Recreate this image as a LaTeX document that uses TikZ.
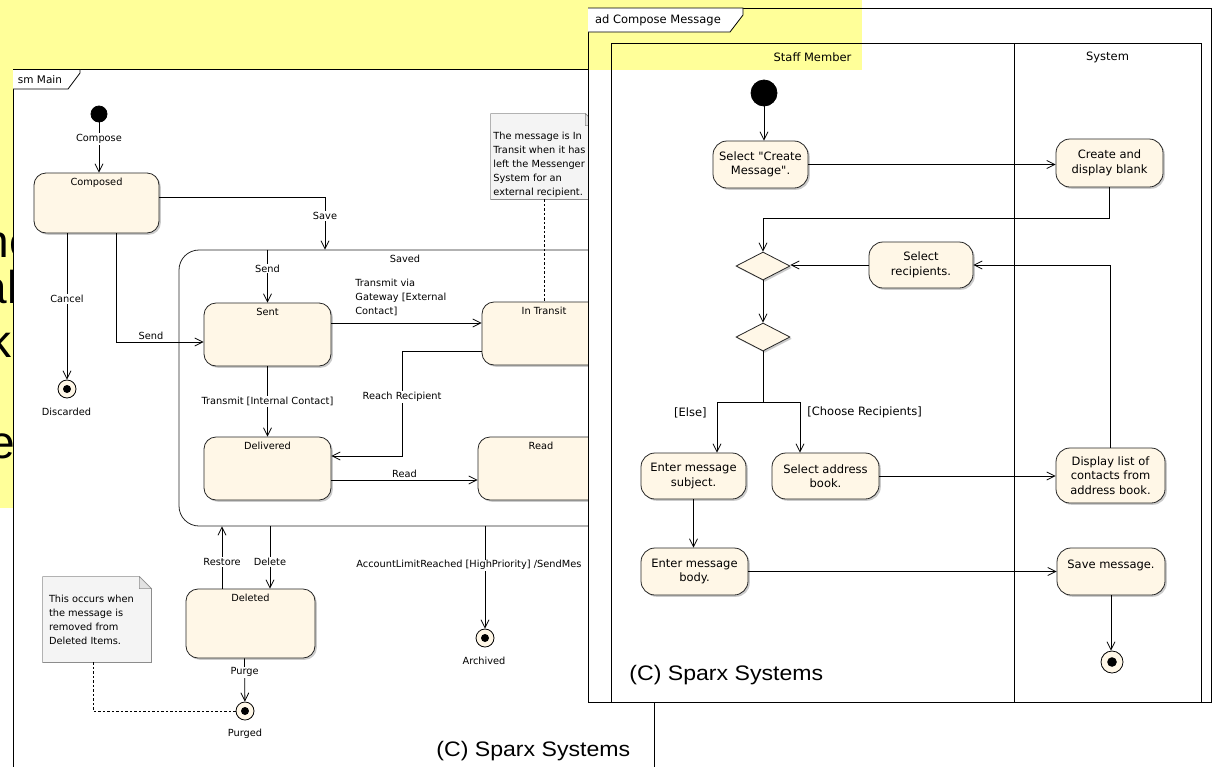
\documentclass[tikz,border=0pt]{standalone}
\usepackage{fontspec}
\setmainfont{DejaVu Sans}
\newfontfamily\arialfam{Liberation Sans}
\usetikzlibrary{arrows.meta,shapes.geometric,shadows}

\definecolor{statefill}{RGB}{255,247,231}
\definecolor{slideyellow}{RGB}{255,255,153}
\definecolor{notefill}{RGB}{244,244,244}
\definecolor{notedraw}{RGB}{140,140,140}
\definecolor{notefold}{RGB}{226,226,226}
\definecolor{shadowgray}{RGB}{140,140,140}
\newcommand{\mysmf}{\fontsize{9.8}{14}\selectfont}
\newcommand{\myadf}{\fontsize{11.5}{14.5}\selectfont}
\newcommand{\mybigf}{\arialfam\fontsize{46}{50}\selectfont}
\newcommand{\mysparxf}{\arialfam\fontsize{21}{25}\selectfont}

\begin{document}
\begin{tikzpicture}[x=1pt, y=-1pt, line width=0.8pt,
  arr/.style={-{Straight Barb[length=8pt,width=8pt]}},
  lbl/.style={fill=white, inner sep=1pt, font=\mysmf},
  txt/.style={font=\mysmf, inner sep=1pt},
  adtxt/.style={font=\myadf, inner sep=1pt},
  shd/.style={drop shadow={shadow xshift=1.8pt, shadow yshift=-1.8pt, fill=shadowgray, opacity=0.45}},
  stbox/.style={draw=black!85, fill=statefill, rounded corners=12pt, inner sep=0, shd},
  actbox/.style={draw=black!85, fill=statefill, rounded corners=14pt, inner sep=2pt, align=center, font=\myadf, shd},
  decn/.style={diamond, draw=black!85, fill=statefill, inner sep=0, shd},
  initn/.style={circle, fill=black, draw=black, inner sep=0},
  finaln/.style={circle, draw=black, fill=statefill, inner sep=0, minimum size=18pt,
     path picture={\fill[black] (path picture bounding box.center) circle[radius=4pt];}},
  finalbig/.style={circle, draw=black, fill=statefill, inner sep=0, minimum size=22pt,
     path picture={\fill[black] (path picture bounding box.center) circle[radius=4.8pt];}},
  inlbl/.style={anchor=north, yshift=-2pt, font=\mysmf},
  notepath/.style={draw=notedraw, fill=notefill, line width=0.7pt}
]
\useasboundingbox (0,0) rectangle (1214,766);
\fill[white] (0,0) rectangle (1214,766);

% slide background
\fill[slideyellow] (0,0) rectangle (862,70);
\fill[slideyellow] (0,0) rectangle (13,508);
\begin{scope}
  \clip (0,0) rectangle (13,508);
  \node[anchor=base east, inner sep=0, font=\mybigf] (bg1) at (35,257) {ne};
  \node[anchor=base east, inner sep=0, font=\mybigf] (bg2) at (18,303) {al};
  \node[anchor=base east, inner sep=0, font=\mybigf] (bg3) at (12,357) {ak};
  \node[anchor=base west, inner sep=0, font=\mybigf] (bg4) at (-11,458) {e};
\end{scope}

% ===== sm Main =====
\fill[white] (13,69.5) rectangle (654,770);
\draw (13,770) -- (13,69.5) -- (654,69.5) -- (654,770);
\draw[fill=white] (13,69.5) -- (80,69.5) -- (80,73) -- (68,89) -- (13,89);
\node[font=\fontsize{10.5}{12}\selectfont, inner sep=0] (smtag) at (40,79.5) {sm Main};

\node[initn, minimum size=16pt] (init1) at (99,114) {};
\node[stbox, minimum width=125pt, minimum height=60pt, label={[inlbl]north:Composed}] (comp) at (96.5,203) {};
\node[finaln] (disc) at (67,389) {};
\node[txt] (disclbl) at (66.5,412) {Discarded};

\node[draw=black!85, fill=white, rounded corners=20pt, minimum width=452pt, minimum height=276pt, inner sep=0,
      label={[inlbl]north:Saved}] (saved) at (405,388) {};
\node[stbox, minimum width=127pt, minimum height=63pt, label={[inlbl]north:Sent}] (sent) at (267.5,334.5) {};
\node[stbox, minimum width=124pt, minimum height=63pt, label={[inlbl]north:In Transit}] (itrans) at (544,333.5) {};
\node[stbox, minimum width=127pt, minimum height=63pt, label={[inlbl]north:Delivered}] (deliv) at (267.5,468.5) {};
\node[stbox, minimum width=126pt, minimum height=63pt, label={[inlbl]north:Read}] (read) at (541,468.5) {};
\node[stbox, minimum width=129pt, minimum height=69pt, label={[inlbl]north:Deleted}] (del) at (250.5,623.5) {};
\node[finaln] (purged) at (245,711) {};
\node[txt] (purgedlbl) at (245,734) {Purged};
\node[finaln] (arch) at (485,638) {};
\node[txt] (archlbl) at (484,661) {Archived};

% notes
\node[minimum width=108pt, minimum height=85pt, inner sep=0] (n1) at (97,619.5) {};
\draw[notepath] (n1.north west) -- ([xshift=-12pt]n1.north east) -- ([yshift=-12pt]n1.north east)
   -- (n1.south east) -- (n1.south west) -- cycle;
\draw[draw=notedraw, fill=notefold, line width=0.5pt] ([xshift=-12pt]n1.north east) -- ([xshift=-12pt,yshift=-12pt]n1.north east) -- ([yshift=-12pt]n1.north east) -- cycle;
\node[txt, align=left, anchor=west] (n1t) at ([xshift=5pt]n1.west) {This occurs when\\the message is\\removed from\\Deleted Items.};

\node[minimum width=106pt, minimum height=85pt, inner sep=0] (n2) at (544,156.5) {};
\draw[notepath] (n2.north west) -- ([xshift=-12pt]n2.north east) -- ([yshift=-12pt]n2.north east)
   -- (n2.south east) -- (n2.south west) -- cycle;
\draw[draw=notedraw, fill=notefold, line width=0.5pt] ([xshift=-12pt]n2.north east) -- ([xshift=-12pt,yshift=-12pt]n2.north east) -- ([yshift=-12pt]n2.north east) -- cycle;
\node[txt, align=left, anchor=west] (n2t) at (492,164.5) {The message is In\\Transit when it has\\left the Messenger\\System for an\\external recipient.};

% sm connectors
\draw[arr] (init1) -- (init1 |- comp.north) node[lbl, pos=0.33] {Compose};
\draw[arr] ([yshift=6pt]comp.east) -| ([xshift=-80pt]saved.north) node[lbl, pos=0.68] {Save};
\draw[arr] ([xshift=-29.5pt]comp.south) -- (disc) node[lbl, pos=0.45] {Cancel};
\draw[arr] ([xshift=19.5pt]comp.south) |- ([yshift=-7.5pt]sent.west) node[txt, pos=0.7, above=1pt] {Send};
\draw[arr] (sent.north |- saved.north) -- (sent.north) node[lbl, pos=0.36] {Send};
\draw[arr] ([yshift=11.5pt]sent.east) -- ([yshift=10.5pt]itrans.west);
\node[txt, align=left, anchor=north west, inner sep=0] (tvlbl) at (355,278.5) {Transmit via\\Gateway [External\\Contact]};
\coordinate (rr) at (402,456);
\draw[arr] ([yshift=-17.5pt]itrans.west) -| (rr) node[lbl, pos=0.72] {Reach Recipient} -- ([yshift=12.5pt]deliv.east);
\draw[arr] (sent.south) -- (deliv.north) node[lbl, pos=0.5] {Transmit [Internal Contact]};
\draw[arr] ([yshift=-11.5pt]deliv.east) -- ([yshift=-11.5pt]read.west) node[txt, pos=0.5, above=1pt] {Read};
\path ([xshift=19.5pt]del.north) coordinate (delA) ([xshift=-28.5pt]del.north) coordinate (delB);
\draw[arr] (delA |- saved.south) -- (delA) node[lbl, pos=0.57] {Delete};
\draw[arr] (delB) -- (delB |- saved.south) node[lbl, pos=0.43] {Restore};
\draw[arr] ([xshift=-6pt]del.south) -- (purged) node[lbl, pos=0.32] {Purge};
\draw[arr] (arch |- saved.south) -- (arch) node[lbl, pos=0.38, anchor=west, xshift=-130pt] {AccountLimitReached [HighPriority] /SendMes};
\draw[dash pattern=on 2.5pt off 2pt, line width=0.7pt] ([xshift=-4pt]n1.south) |- (purged);
\draw[dash pattern=on 2.5pt off 2pt, line width=0.7pt] (itrans.north |- n2.south) -- (itrans.north);

\node[font=\mysparxf, anchor=base west, inner sep=0] (cpy1) at (436,756) {\scalebox{1.1}[1]{(C) Sparx Systems}};

% ===== ad Compose Message =====
\fill[white] (588,8) rectangle (1211.5,702);
\fill[slideyellow] (588,0) rectangle (862,70);
\draw (588,8) rectangle (1211.5,702);
\draw[fill=white] (588,8) -- (743,8) -- (743,15) -- (730,32) -- (588,32);
\node[adtxt] (adtag) at (658,20) {ad Compose Message};
\draw (611,702) -- (611,43) -- (1201,43) -- (1201,702);
\draw (1014,43) -- (1014,702);
\node[adtxt] (lane1) at (812.5,57) {Staff Member};
\node[adtxt] (lane2) at (1107.5,57) {System};

\node[initn, minimum size=26pt] (init2) at (764,93) {};
\node[actbox, minimum width=95pt, minimum height=47pt] (a1) at (760.5,164.5) {Select \textquotedbl Create\\Message\textquotedbl.};
\node[actbox, minimum width=107pt, minimum height=48pt] (a2) at (1109.5,163) {Create and\\display blank};
\node[decn, minimum width=54pt, minimum height=28pt] (d1) at (763,266) {};
\node[actbox, minimum width=104pt, minimum height=46pt] (a3) at (921,265) {Select\\recipients.};
\node[decn, minimum width=54pt, minimum height=28pt] (d2) at (763,337) {};
\node[actbox, minimum width=105pt, minimum height=46pt] (a4) at (693.5,476) {Enter message\\subject.};
\node[actbox, minimum width=107pt, minimum height=46pt] (a5) at (825.5,476) {Select address\\book.};
\node[actbox, minimum width=109pt, minimum height=55pt] (a6) at (1110.5,475.5) {Display list of\\contacts from\\address book.};
\node[actbox, minimum width=107pt, minimum height=47pt] (a7) at (694.5,571.5) {Enter message\\body.};
\node[actbox, minimum width=108pt, minimum height=47pt] (a8) at (1111,571.5) {Save message.\\\phantom{X}};
\node[finalbig] (final2) at (1112,662) {};

\draw[arr] (init2) -- (init2 |- a1.north);
\draw[arr] (a1.east) -- (a1.east -| a2.west);
\draw[arr] (a2.south) -- ++(0,31) -| (d1.north);
\draw[arr] (a3.west) -- (a3.west -| d1.east);
\draw[arr] (a6.north) |- (a3.east);
\draw[arr] (d1.south) -- (d2.north);
\draw[arr] (d2.south) -- ++(0,51) -| ([xshift=23.5pt]a4.north) node[adtxt, pos=0.6, left=9pt] {[Else]};
\draw[arr] (d2.south) -- ++(0,51) -| ([xshift=-25.5pt]a5.north) node[adtxt, pos=0.6, right=6pt] {[Choose Recipients]};
\draw[arr] (a5.east) -- (a5.east -| a6.west);
\draw[arr] (a4.south) -- (a4.south |- a7.north);
\draw[arr] (a7.east) -- (a7.east -| a8.west);
\draw[arr] (a8.south) -- (a8.south |- final2.north);

\node[font=\mysparxf, anchor=base west, inner sep=0] (cpy2) at (629,680) {\scalebox{1.1}[1]{(C) Sparx Systems}};
\end{tikzpicture}
\end{document}
